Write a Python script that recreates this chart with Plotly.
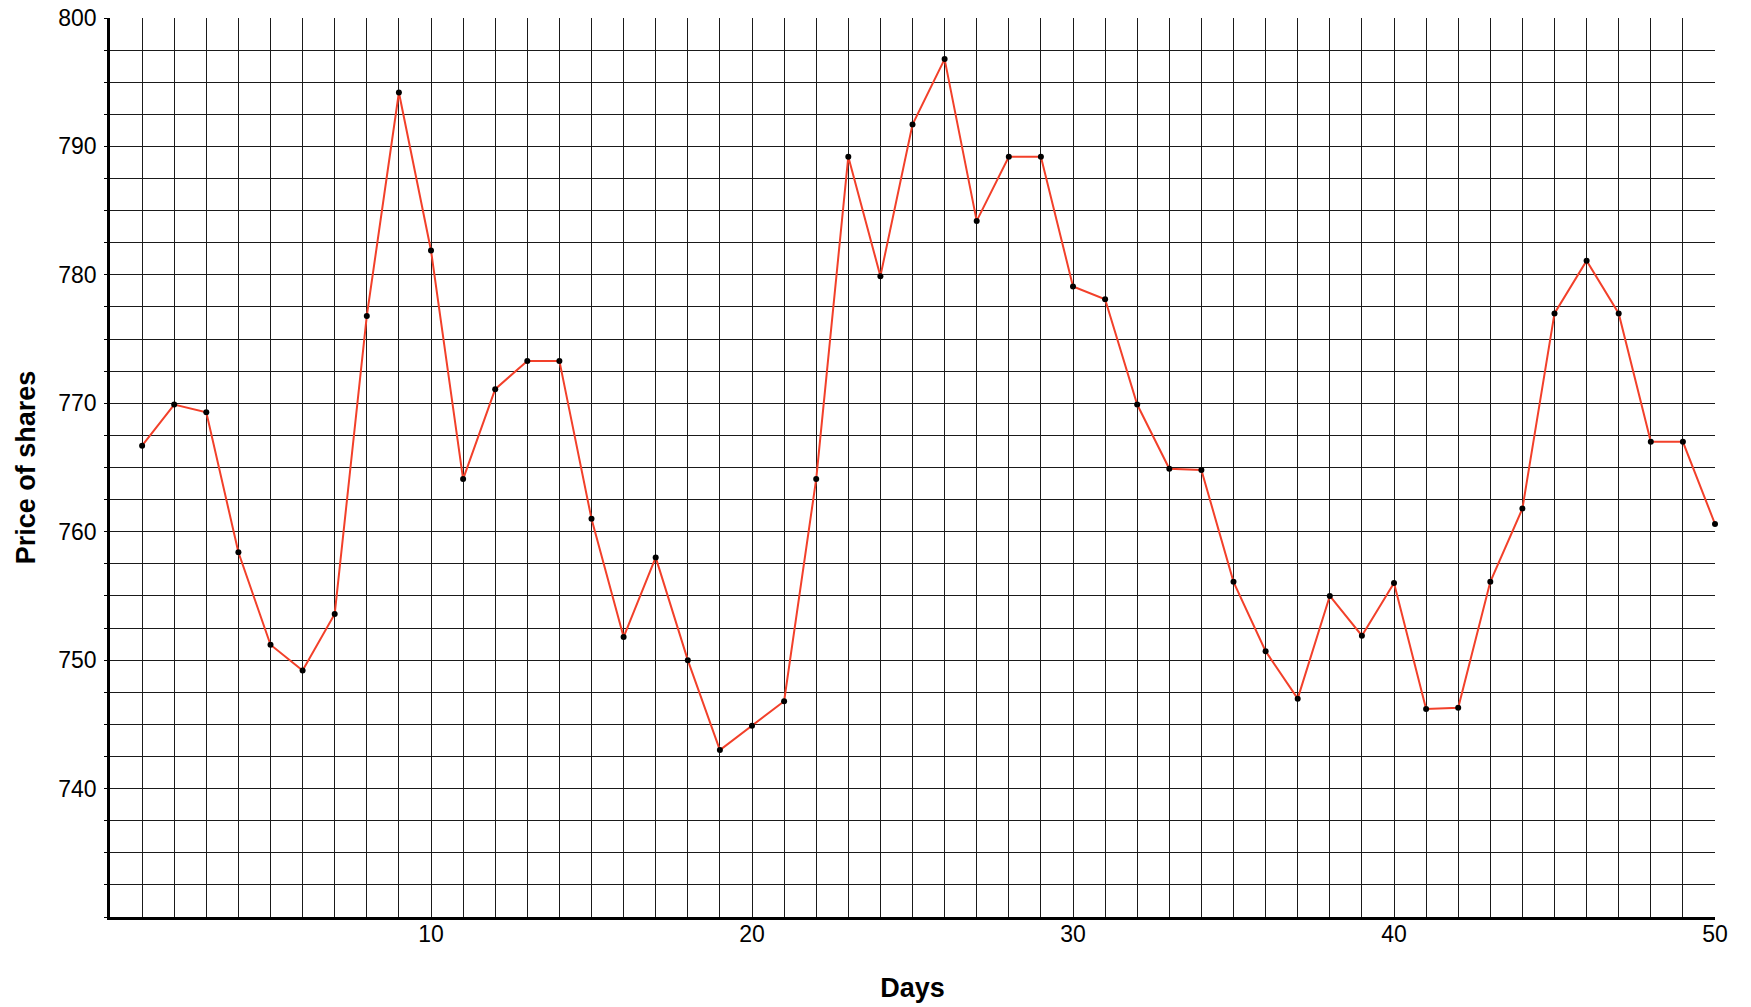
import plotly.graph_objects as go

days = list(range(1, 51))
prices = [766.7, 769.9, 769.3, 758.4, 751.2, 749.2, 753.6, 776.8, 794.2, 781.9,
          764.1, 771.1, 773.3, 773.3, 761.0, 751.8, 758.0, 750.0, 743.0, 744.9,
          746.8, 764.1, 789.2, 779.9, 791.7, 796.8, 784.2, 789.2, 789.2, 779.1,
          778.1, 769.9, 764.9, 764.8, 756.1, 750.7, 747.0, 755.0, 751.9, 756.0,
          746.2, 746.3, 756.1, 761.8, 777.0, 781.1, 777.0, 767.0, 767.0, 760.6]
x_ticks = [10, 20, 30, 40, 50]
y_ticks = [740, 750, 760, 770, 780, 790, 800]

FONT = "Liberation Sans, Arial, sans-serif"
GRID = "#1a1a1a"

fig = go.Figure()
fig.add_trace(go.Scatter(
    x=days, y=prices, mode="lines+markers",
    line=dict(color="#f2402a", width=2),
    marker=dict(color="black", size=6),
    cliponaxis=False, showlegend=False,
))

fig.update_layout(
    width=1751, height=1007,
    margin=dict(l=110, r=36, t=18, b=90),
    paper_bgcolor="white", plot_bgcolor="white",
    font=dict(family=FONT, color="black", size=23),
)
fig.update_xaxes(
    range=[0, 50], tickvals=x_ticks, ticks="", showgrid=True,
    gridcolor=GRID, gridwidth=1, automargin=False, ticklabeloverflow="allow",
    minor=dict(dtick=1, tick0=0, showgrid=True, gridcolor=GRID, gridwidth=1),
    showline=True, linecolor="black", linewidth=2.5,
    zeroline=False, tickfont=dict(size=23), ticklabelstandoff=-5,
    title=dict(text="<b>Days</b>", font=dict(size=27), standoff=32),
)
fig.update_yaxes(
    range=[730, 800], tickvals=y_ticks, ticks="outside", ticklen=3,
    tickcolor="black", showgrid=True, gridcolor=GRID, gridwidth=1,
    automargin=False, ticklabeloverflow="allow",
    minor=dict(dtick=2.5, tick0=730, showgrid=True, gridcolor=GRID, gridwidth=1,
               ticks="outside", ticklen=3, tickcolor="black"),
    showline=True, linecolor="black", linewidth=2.5,
    zeroline=False, tickfont=dict(size=23), ticklabelstandoff=3,
    title=dict(text="<b>Price of shares</b>", font=dict(size=27), standoff=15),
)

fig.write_html(
    "out.html",
    config={"displayModeBar": False},
    post_script="document.body.style.margin='0';document.body.style.overflow='hidden';",
)
